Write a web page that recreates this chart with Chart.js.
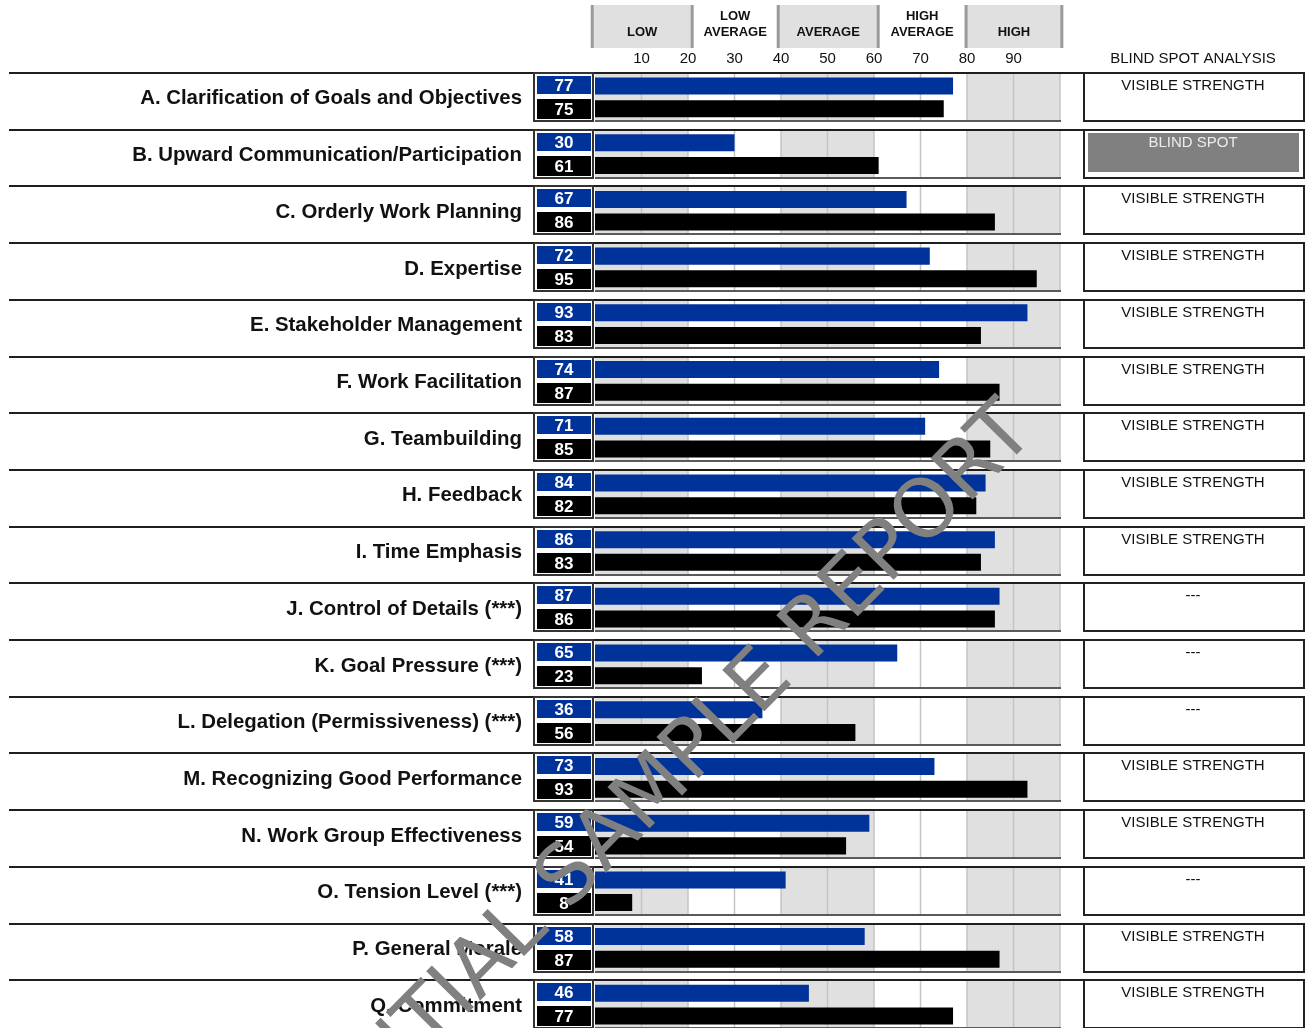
<!DOCTYPE html>
<html lang="en">
<head>
  <meta charset="UTF-8" />
  <title>Blind Spot Analysis</title>
  <script src="https://cdn.jsdelivr.net/npm/chart.js"></script>
  <style>
    html, body { margin: 0; padding: 0; background: #fff; overflow: hidden; }
    #wrap { position: absolute; left: 0; top: 0; width: 1306px; height: 1040px; }
  </style>
</head>
<body>
  <div id="wrap"><canvas id="chart" width="1306" height="1040"></canvas></div>

  <script>
    const categories = [
      "A. Clarification of Goals and Objectives",
      "B. Upward Communication/Participation",
      "C. Orderly Work Planning",
      "D. Expertise",
      "E. Stakeholder Management",
      "F. Work Facilitation",
      "G. Teambuilding",
      "H. Feedback",
      "I. Time Emphasis",
      "J. Control of Details (***)",
      "K. Goal Pressure (***)",
      "L. Delegation (Permissiveness) (***)",
      "M. Recognizing Good Performance",
      "N. Work Group Effectiveness",
      "O. Tension Level (***)",
      "P. General Morale",
      "Q. Commitment"
    ];
    const selfScores  = [77, 30, 67, 72, 93, 74, 71, 84, 86, 87, 65, 36, 73, 59, 41, 58, 46];
    const otherScores = [75, 61, 86, 95, 83, 87, 85, 82, 83, 86, 23, 56, 93, 54, 8, 87, 77];
    const analysis = [
      "VISIBLE STRENGTH", "BLIND SPOT", "VISIBLE STRENGTH", "VISIBLE STRENGTH",
      "VISIBLE STRENGTH", "VISIBLE STRENGTH", "VISIBLE STRENGTH", "VISIBLE STRENGTH",
      "VISIBLE STRENGTH", "---", "---", "---", "VISIBLE STRENGTH",
      "VISIBLE STRENGTH", "---", "VISIBLE STRENGTH", "VISIBLE STRENGTH"
    ];
    const tickValues = [10, 20, 30, 40, 50, 60, 70, 80, 90];
    const rangeNames = [["LOW"], ["LOW", "AVERAGE"], ["AVERAGE"], ["HIGH", "AVERAGE"], ["HIGH"]];
    const rangeEdges = [-0.6, 20.9, 39.4, 60.9, 79.8, 100.4];
    const shadedBands = [[0, 20], [40, 60], [80, 100]];

    const FONT = "'Liberation Sans', Arial, sans-serif";
    const BLUE = "#00339a";

    // bandas, cajas de valores, columna derecha, encabezado y marca de agua
    const decor = {
      id: "decor",
      beforeDatasetsDraw(chart) {
        const { ctx, scales: { x, y } } = chart;
        ctx.save();
        categories.forEach((c, i) => {
          const top = Math.round(y.getPixelForValue(i) - 25.35);
          ctx.fillStyle = "#e0e0e0";
          shadedBands.forEach(([a, b]) => {
            const x0 = x.getPixelForValue(a);
            ctx.fillRect(x0, top + 2, x.getPixelForValue(b) - x0, 46);
          });
          ctx.strokeStyle = "#c4c4c4";
          ctx.lineWidth = 1.5;
          for (let v = 10; v <= 100; v += 10) {
            const px = x.getPixelForValue(v);
            ctx.beginPath();
            ctx.moveTo(px, top + 2);
            ctx.lineTo(px, top + 48);
            ctx.stroke();
          }
          ctx.strokeStyle = "#5a5a5a";
          ctx.lineWidth = 2;
          ctx.beginPath();
          ctx.moveTo(x.left, top + 49);
          ctx.lineTo(x.right + 1, top + 49);
          ctx.stroke();
          ctx.strokeStyle = "#1e1e1e";
          ctx.beginPath();
          ctx.moveTo(9, top + 1);
          ctx.lineTo(1305, top + 1);
          ctx.stroke();
        });
        ctx.restore();
      },
      afterDatasetsDraw(chart) {
        const { ctx, scales: { y } } = chart;
        ctx.save();
        ctx.textAlign = "center";
        ctx.textBaseline = "middle";
        categories.forEach((c, i) => {
          const top = Math.round(y.getPixelForValue(i) - 25.35);
          // caja de valores
          ctx.fillStyle = "#fff";
          ctx.fillRect(534, top + 1, 59, 48);
          ctx.strokeStyle = "#333";
          ctx.lineWidth = 2;
          ctx.strokeRect(534, top + 1, 59, 48);
          ctx.fillStyle = BLUE;
          ctx.fillRect(537, top + 4, 54, 18);
          ctx.fillStyle = "#000";
          ctx.fillRect(537, top + 27, 54, 20);
          ctx.fillStyle = "#fff";
          ctx.font = "bold 17px " + FONT;
          ctx.fillText(selfScores[i], 564, top + 14);
          ctx.fillText(otherScores[i], 564, top + 38);
          // analisis
          ctx.strokeStyle = "#222";
          ctx.strokeRect(1084, top + 1, 220, 48);
          ctx.font = "15px " + FONT;
          if (analysis[i] === "BLIND SPOT") {
            ctx.fillStyle = "#808080";
            ctx.fillRect(1088, top + 4, 211, 39);
            ctx.fillStyle = "#ececec";
          } else {
            ctx.fillStyle = "#111";
          }
          ctx.fillText(analysis[i], 1193, top + 14);
        });
        ctx.restore();
      },
      afterDraw(chart) {
        const { ctx, scales: { x } } = chart;
        ctx.save();
        // encabezado de rangos
        for (let k = 0; k < rangeNames.length; k++) {
          const x0 = x.getPixelForValue(rangeEdges[k]);
          const x1 = x.getPixelForValue(rangeEdges[k + 1]);
          if (k % 2 === 0) {
            ctx.fillStyle = "#e0e0e0";
            ctx.fillRect(x0, 5, x1 - x0, 43);
          }
          ctx.fillStyle = "#111";
          ctx.font = "bold 13px " + FONT;
          ctx.textAlign = "center";
          ctx.textBaseline = "middle";
          const lines = rangeNames[k];
          lines.forEach((t, j) => {
            ctx.fillText(t, (x0 + x1) / 2, 32 - (lines.length - 1 - j) * 16);
          });
        }
        ctx.strokeStyle = "#9a9a9a";
        ctx.lineWidth = 3;
        rangeEdges.forEach(v => {
          const px = x.getPixelForValue(v);
          ctx.beginPath();
          ctx.moveTo(px, 5);
          ctx.lineTo(px, 48);
          ctx.stroke();
        });
        ctx.fillStyle = "#111";
        ctx.font = "15px " + FONT;
        ctx.fillText("BLIND SPOT ANALYSIS", 1193, 59);

        // marca de agua
        ctx.translate(1037, 434);
        ctx.rotate(-45.5 * Math.PI / 180);
        ctx.fillStyle = "#808080";
        ctx.font = "81px 'DejaVu Sans', sans-serif";
        ctx.textAlign = "right";
        ctx.textBaseline = "alphabetic";
        ctx.fillText("CONFIDENTIAL SAMPLE REPORT", 0, 0);
        ctx.restore();
      }
    };

    new Chart(document.getElementById("chart"), {
      type: "bar",
      data: {
        labels: categories,
        datasets: [
          { label: "Self", data: selfScores, backgroundColor: BLUE, categoryPercentage: 0.8, barPercentage: 0.75 },
          { label: "Others", data: otherScores, backgroundColor: "#000", categoryPercentage: 0.8, barPercentage: 0.75 }
        ]
      },
      options: {
        indexAxis: "y",
        responsive: false,
        animation: false,
        layout: { autoPadding: false, padding: { left: 0, right: 246, top: 0, bottom: 7 } },
        plugins: { legend: { display: false }, tooltip: { enabled: false } },
        scales: {
          x: {
            position: "top",
            min: 0,
            max: 100,
            afterFit: s => { s.height = 69; s.paddingLeft = 0; s.paddingRight = 0; },
            afterBuildTicks: s => { s.ticks = tickValues.map(v => ({ value: v })); },
            ticks: { font: { family: FONT, size: 15 }, color: "#111", padding: 1, maxRotation: 0, autoSkip: false },
            grid: { display: false, drawTicks: false },
            border: { display: false }
          },
          y: {
            afterFit: s => { s.width = 595; s.paddingTop = 0; s.paddingBottom = 0; },
            ticks: { font: { family: FONT, size: 20.4, weight: "bold" }, color: "#111", padding: 73, labelOffset: 1.5, autoSkip: false },
            grid: { display: false, drawTicks: false },
            border: { display: false }
          }
        }
      },
      plugins: [decor]
    });
  </script>
</body>
</html>
